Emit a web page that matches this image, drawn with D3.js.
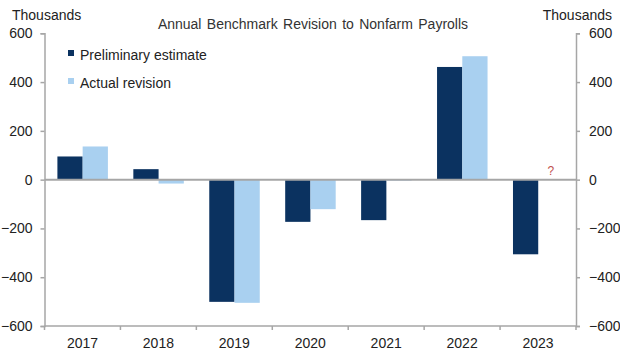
<!DOCTYPE html>
<html>
<head>
<meta charset="utf-8">
<script src="https://cdn.jsdelivr.net/npm/d3@7"></script>
<style>
  body { margin: 0; background: #fff; }
  text { font-family: "Liberation Sans", Arial, sans-serif; fill: #222; }
</style>
</head>
<body>
<div id="chart"></div>
<script>
// Data (thousands)
const years = ["2017", "2018", "2019", "2020", "2021", "2022", "2023"];
const preliminary = [95, 43, -501, -173, -166, 462, -306];
const actual = [136, -16, -505, -121, -2, 506, null];
const seriesNames = ["Preliminary estimate", "Actual revision"];
const yTicks = [-600, -400, -200, 0, 200, 400, 600];

const W = 620, H = 353;
const margin = { top: 33.3, right: 44, bottom: 27, left: 44.5 };
const width = W - margin.left - margin.right,
    height = H - margin.top - margin.bottom;

const colors = ["#0b3260", "#a9d0f0"];

const svg = d3.select("#chart")
    .append("svg")
    .attr("width", W)
    .attr("height", H);

const g = svg.append("g")
    .attr("transform", `translate(${margin.left}, ${margin.top})`);

// Scales
const x0 = d3.scaleBand().domain(years).range([0, width]);
const x1 = d3.scaleBand().domain([0, 1])
    .range([x0.bandwidth() * 0.17, x0.bandwidth() * 0.835]);
const y = d3.scaleLinear().domain([-600, 600]).range([height, 0]);

// Bars
const rows = years.map((yr, i) => ({ year: yr, vals: [preliminary[i], actual[i]] }));
const grp = g.selectAll(".yr")
    .data(rows)
    .join("g")
    .attr("transform", d => `translate(${x0(d.year)},0)`);

grp.selectAll("rect")
    .data(d => d.vals.map((v, k) => ({ v, k })).filter(e => e.v !== null))
    .join("rect")
    .attr("x", d => x1(d.k))
    .attr("width", x1.bandwidth())
    .attr("y", d => y(Math.max(0, d.v)))
    .attr("height", d => Math.max(1, Math.abs(y(d.v) - y(0))))
    .attr("fill", d => colors[d.k]);

// Question mark for missing 2023 actual revision
g.append("text")
    .attr("x", x0("2023") + x1(1) + x1.bandwidth() / 2)
    .attr("y", y(0) - 5)
    .attr("text-anchor", "middle")
    .style("font-size", "12px")
    .style("fill", "#c0504d")
    .text("?");

const axisColor = "#a6a6a6";

// Zero line
g.append("line")
    .attr("x1", 0).attr("x2", width)
    .attr("y1", y(0)).attr("y2", y(0))
    .attr("stroke", axisColor)
    .attr("stroke-width", 2);

// Left axis
const yLeft = g.append("g")
    .call(d3.axisLeft(y).tickValues(yTicks).tickSize(4).tickPadding(8).tickFormat(d3.format("d")));
// Right axis
const yRight = g.append("g")
    .attr("transform", `translate(${width},0)`)
    .call(d3.axisRight(y).tickValues(yTicks).tickSize(4).tickPadding(9).tickFormat(d3.format("d")));
// Bottom axis
const xAxis = g.append("g")
    .attr("transform", `translate(0,${height})`)
    .call(d3.axisBottom(x0).tickSize(0).tickPadding(12));

// Category boundary ticks
g.selectAll(".sep")
    .data(d3.range(years.length + 1))
    .join("line")
    .attr("x1", i => i * x0.step()).attr("x2", i => i * x0.step())
    .attr("y1", height).attr("y2", height + 4)
    .attr("stroke", axisColor)
    .attr("stroke-width", 1.5);

[yLeft, yRight, xAxis].forEach(a => {
    a.selectAll(".domain").attr("stroke", axisColor).attr("stroke-width", 1.5);
    a.selectAll(".tick line").attr("stroke", axisColor).attr("stroke-width", 1.5);
    a.selectAll("text").style("font-size", "14px").style("fill", "#222")
        .style("font-family", "'Liberation Sans', Arial, sans-serif");
});
xAxis.selectAll(".domain").remove();
g.append("line")
    .attr("x1", 0).attr("x2", width)
    .attr("y1", height).attr("y2", height)
    .attr("stroke", axisColor).attr("stroke-width", 1.5);

// Titles
svg.append("text")
    .attr("x", 12).attr("y", 20)
    .style("font-size", "14px")
    .text("Thousands");
svg.append("text")
    .attr("x", 612).attr("y", 20)
    .attr("text-anchor", "end")
    .style("font-size", "14px")
    .text("Thousands");
svg.append("text")
    .attr("x", 313).attr("y", 29)
    .attr("text-anchor", "middle")
    .style("font-size", "14px")
    .style("fill", "#333")
    .style("word-spacing", "1.5px")
    .text("Annual Benchmark Revision to Nonfarm Payrolls");

// Legend
const legend = svg.append("g").attr("transform", "translate(68,50)");
seriesNames.forEach((name, i) => {
    legend.append("rect")
        .attr("x", 0).attr("y", i * 28)
        .attr("width", 6).attr("height", 6)
        .attr("fill", colors[i]);
    legend.append("text")
        .attr("x", 12).attr("y", i * 28 + 9.5)
        .style("font-size", "14px")
        .text(name);
});
</script>
</body>
</html>
